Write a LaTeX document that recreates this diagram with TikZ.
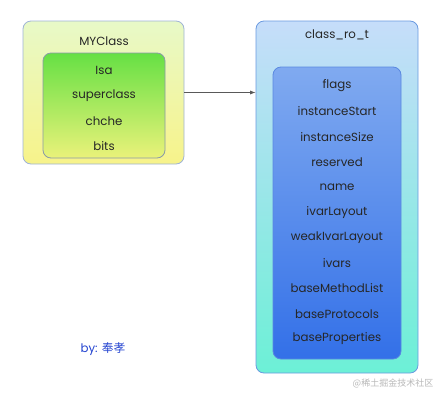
\documentclass[tikz,border=0pt]{standalone}
\usepackage{fontspec}
\setmainfont{Poppins}
\newfontfamily\cjk{Noto Sans CJK SC}
\usetikzlibrary{arrows.meta}
\definecolor{myOutTop}{HTML}{E8F9C8}
\definecolor{myOutBot}{HTML}{F7F38A}
\definecolor{myOutBd}{HTML}{9FB3D6}
\definecolor{myInTop}{HTML}{66E044}
\definecolor{myInBot}{HTML}{EAF27A}
\definecolor{myInBd}{HTML}{8A9AA8}
\definecolor{roOutTop}{HTML}{C6DDFA}
\definecolor{roOutBot}{HTML}{6CF0D6}
\definecolor{roOutBd}{HTML}{6A9AE0}
\definecolor{roInTop}{HTML}{80AAF0}
\definecolor{roInBot}{HTML}{3370E8}
\definecolor{roInBd}{HTML}{5A88E0}
\definecolor{byblue}{HTML}{2444D0}
\definecolor{wm}{HTML}{B8B8B8}
\tikzset{
  boxbase/.style={draw, rounded corners=8pt, line width=0.8pt, inner sep=0pt, anchor=center},
  field/.style={font=\fontsize{11.8}{14}\selectfont, text=black!85, inner sep=0pt},
}
\begin{document}
\begin{tikzpicture}[x=1pt,y=-1pt]
\useasboundingbox (0,0) rectangle (447,400);
% MYClass
\node[boxbase, draw=myOutBd, top color=myOutTop, bottom color=myOutBot,
      minimum width=161pt, minimum height=143pt] (my) at (103.5,92.5) {};
\node[boxbase, draw=myInBd, top color=myInTop, bottom color=myInBot,
      minimum width=122pt, minimum height=105pt] (myin) at (104,105.5) {};
\node[field] (mytitle) at (104,41) {MYClass};
\node[field] (isa) at (104,70) {Isa};
\node[field] (superclass) at (104,96) {superclass};
\node[field] (chche) at (104,121) {chche};
\node[field] (bits) at (104,146) {bits};
% class_ro_t
\node[boxbase, draw=roOutBd, top color=roOutTop, bottom color=roOutBot,
      minimum width=162pt, minimum height=352pt] (ro) at (337,197) {};
\node[boxbase, draw=roInBd, top color=roInTop, bottom color=roInBot,
      minimum width=128pt, minimum height=292pt] (roin) at (337,213) {};
\node[field] (rotitle) at (337,35) {class\_ro\_t};
\node[field] (f1) at (337,86) {flags};
\node[field] (f2) at (337,111.3) {instanceStart};
\node[field] (f3) at (337,136.6) {instanceSize};
\node[field] (f4) at (337,161.9) {reserved};
\node[field] (f5) at (337,187.2) {name};
\node[field] (f6) at (337,212.5) {ivarLayout};
\node[field] (f7) at (337,237.8) {weakIvarLayout};
\node[field] (f8) at (337,263.1) {ivars};
\node[field] (f9) at (337,288.4) {baseMethodList};
\node[field] (f10) at (337,313.7) {baseProtocols};
\node[field] (f11) at (337,339) {baseProperties};
% arrow
\draw[draw=black!65, line width=0.7pt, -{Latex[length=5.5pt,width=4pt]}] (my.east) -- (my.east -| ro.west);
% labels
\node[font=\fontsize{11.8}{14}\selectfont, text=byblue, inner sep=0pt] (by) at (103,349) {by: {\cjk 奉孝}};
\node[font=\fontsize{9}{11}\selectfont\cjk, text=wm, inner sep=0pt] (wmk) at (393,383) {@稀土掘金技术社区};
\end{tikzpicture}
\end{document}
